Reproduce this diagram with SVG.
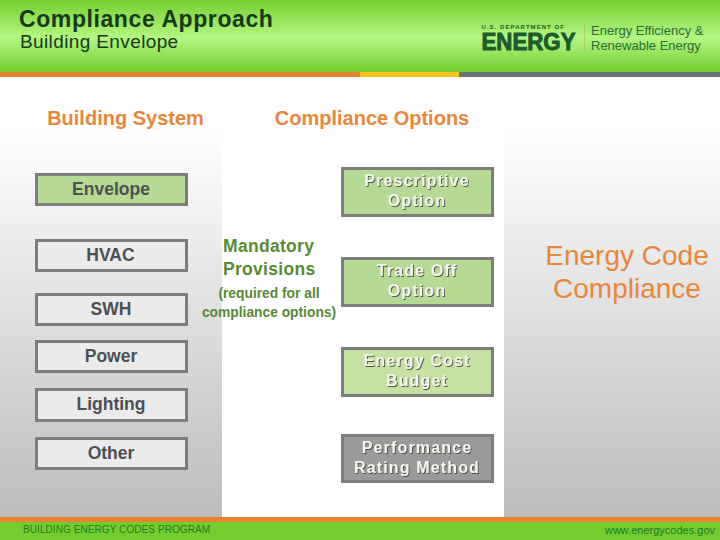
<svg xmlns="http://www.w3.org/2000/svg" width="720" height="540" viewBox="0 0 720 540">
<defs>
<linearGradient id="hdr" x1="0" y1="0" x2="0" y2="1"><stop offset="0" stop-color="#74d02e"/><stop offset="0.52" stop-color="#b4f682"/><stop offset="1" stop-color="#72ce30"/></linearGradient>
<linearGradient id="side" x1="0" y1="0" x2="0" y2="1"><stop offset="0" stop-color="#ffffff"/><stop offset="1" stop-color="#bcbcbc"/></linearGradient>
<filter id="sh" x="-10%" y="-20%" width="120%" height="140%"><feDropShadow dx="1" dy="1" stdDeviation="0.4" flood-color="#444" flood-opacity="0.9"/></filter>
</defs>
<style>
text{font-family:"Liberation Sans",Arial,sans-serif}
.b{stroke:#7b7f7c;stroke-width:3}
.g{fill:#b5da93}.w{fill:#ebebeb}
.sys{font-size:17.5px;font-weight:700;fill:#4b5055;text-anchor:middle}
.opt{font-size:16px;font-weight:700;fill:#f2f6ec;text-anchor:middle;letter-spacing:1.15px;filter:url(#sh)}
.head{font-size:20px;font-weight:700;fill:#e8863a;text-anchor:middle}
.man{font-size:17.5px;font-weight:700;fill:#578a35;letter-spacing:0.3px}
.req{font-size:13.8px;font-weight:700;fill:#578a35;text-anchor:middle}
.ecc{font-size:28px;fill:#e8863a;text-anchor:middle}
</style>
<rect width="720" height="540" fill="#fff"/>
<rect x="0" y="130" width="222" height="388" fill="url(#side)"/>
<rect x="504" y="130" width="216" height="388" fill="url(#side)"/>
<rect width="720" height="72" fill="url(#hdr)"/>
<rect y="72" width="360" height="5" fill="#e88333"/>
<rect x="360" y="72" width="99" height="5" fill="#f7c71f"/>
<rect x="459" y="72" width="261" height="5" fill="#6c7378"/>
<rect y="517" width="720" height="5" fill="#e88333"/>
<rect y="522" width="720" height="18" fill="#72ce30"/>
<text x="19" y="27" font-size="23" font-weight="700" fill="#17391a" letter-spacing="0.59">Compliance Approach</text>
<text x="20" y="47.500" font-size="19" fill="#17391a" letter-spacing="0.38">Building Envelope</text>
<g id="logo">
<text x="481.500" y="28.500" font-size="6" font-weight="700" fill="#1d5a2d" letter-spacing="1.05">U.S. DEPARTMENT OF</text>
<text x="481.500" y="50" font-size="23" font-weight="700" fill="#1d5a2d" stroke="#1d5a2d" stroke-width="0.9" textLength="94" lengthAdjust="spacingAndGlyphs">ENERGY</text>
<rect x="584" y="24" width="1" height="28" fill="#a6cf6c"/>
<text x="591" y="35" font-size="13" fill="#2d6b3c">Energy Efficiency &amp;</text>
<text x="591" y="50" font-size="13" fill="#2d6b3c">Renewable Energy</text>
</g>
<text class="head" x="125.500" y="125">Building System</text>
<text class="head" x="372" y="125">Compliance Options</text>
<g id="envelope"><rect class="b g" x="36.500" y="174.500" width="150" height="30"/><text class="sys" x="111" y="195">Envelope</text></g>
<g id="hvac"><rect class="b w" x="36.500" y="240.500" width="150" height="30"/><text class="sys" x="110.500" y="261">HVAC</text></g>
<g id="swh"><rect class="b w" x="36.500" y="294.500" width="150" height="30"/><text class="sys" x="111" y="315">SWH</text></g>
<g id="power"><rect class="b w" x="36.500" y="341.500" width="150" height="30"/><text class="sys" x="111" y="362">Power</text></g>
<g id="lighting"><rect class="b w" x="36.500" y="389.500" width="150" height="31"/><text class="sys" x="111" y="410">Lighting</text></g>
<g id="other"><rect class="b w" x="36.500" y="438.500" width="150" height="30"/><text class="sys" x="111" y="459">Other</text></g>
<g id="mandatory">
<text class="man" x="223" y="252">Mandatory</text>
<text class="man" x="223" y="275">Provisions</text>
<text class="req" x="269" y="298">(required for all</text>
<text class="req" x="269" y="317">compliance options)</text>
</g>
<g id="prescriptive"><rect class="b g" x="342.500" y="168.500" width="150" height="47"/><text class="opt" x="417" y="186">Prescriptive</text><text class="opt" x="417" y="206">Option</text></g>
<g id="tradeoff"><rect class="b g" x="342.500" y="258.500" width="150" height="47"/><text class="opt" x="417" y="276">Trade Off</text><text class="opt" x="417" y="296">Option</text></g>
<g id="ecb"><rect class="b" fill="#c5e2a2" x="342.500" y="348.500" width="150" height="47"/><text class="opt" x="417" y="366">Energy Cost</text><text class="opt" x="417" y="386">Budget</text></g>
<g id="prm"><rect class="b" fill="#9a9a9a" x="342.500" y="435.500" width="150" height="46"/><text class="opt" x="417" y="453">Performance</text><text class="opt" x="417" y="473">Rating Method</text></g>
<g id="ecc"><text class="ecc" x="627" y="265">Energy Code</text><text class="ecc" x="627" y="298">Compliance</text></g>
<text x="23" y="533" font-size="10" fill="#1e7a1e" letter-spacing="0.08">BUILDING ENERGY CODES PROGRAM</text>
<text x="715" y="534" font-size="11" fill="#1e7a1e" text-anchor="end">www.energycodes.gov</text>
</svg>
